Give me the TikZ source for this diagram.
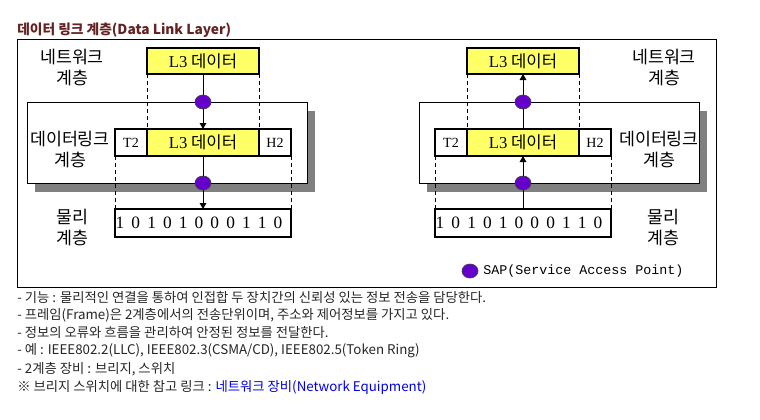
\documentclass[tikz,border=0pt]{standalone}
\usepackage{fontspec}
\setmainfont{Noto Sans CJK KR}
\setmonofont{Liberation Mono}
\newfontfamily\latserif{Liberation Serif}
\usetikzlibrary{arrows.meta, positioning, shapes.geometric, shadows}
\definecolor{titlered}{RGB}{102, 34, 34}
\definecolor{datayellow}{RGB}{255, 255, 102}
\definecolor{sappurple}{RGB}{102, 0, 204}
\definecolor{shadowgray}{RGB}{128, 128, 128}
\definecolor{linkblue}{RGB}{0, 0, 230}

\begin{document}
\begin{tikzpicture}[x=0.75pt, y=-0.75pt,
    databox/.style={draw, line width=1.5pt, fill=datayellow, minimum width=84pt, minimum height=19.5pt, inner sep=0pt, outer sep=0pt, font=\fontsize{12.5}{14}\selectfont},
    headcell/.style={draw, line width=1.5pt, fill=white, minimum width=24pt, minimum height=20.25pt, inner sep=0pt, outer sep=0pt, font=\latserif\fontsize{10.5}{12}\selectfont},
    bitbox/.style={draw, line width=1.5pt, fill=white, minimum width=132pt, minimum height=21pt, inner sep=0pt, outer sep=0pt},
    bit/.style={inner sep=0pt, font=\latserif\fontsize{13}{14}\selectfont},
    layerbox/.style={draw, line width=0.75pt, fill=white, minimum width=210pt, minimum height=60.75pt, inner sep=0pt, outer sep=0pt,
        drop shadow={shadow xshift=6pt, shadow yshift=-6.75pt, opacity=1, fill=shadowgray}},
    sap/.style={ellipse, draw=black!75, line width=0.5pt, fill=sappurple, minimum width=12pt, minimum height=10.5pt, inner sep=0pt},
    layername/.style={align=center, inner sep=0pt, font=\fontsize{13}{15.75}\selectfont},
    flow/.style={line width=0.75pt, -{Triangle[width=5pt, length=4.5pt]}},
    guide/.style={line width=0.75pt, dash pattern=on 3pt off 2.25pt},
    note/.style={anchor=west, inner sep=0pt, text=black!85, font=\fontsize{10}{12}\selectfont}]
  \useasboundingbox (0,0) rectangle (760,419);

  % title and frame
  \node[anchor=west, inner sep=0pt, text=titlered, font=\bfseries\fontsize{10.3}{12}\selectfont] (title) at (17,30) {데이터 링크 계층(Data Link Layer)};
  \draw[line width=0.75pt] (17,39) rectangle (716,287);

  % sender side
  \node[layerbox] (layerL) at (167,142.5) {};
  \node[databox] (l3L) at (203,61) {{\latserif L3} 데이터};
  \node[databox, minimum height=20.25pt] (dataL) at (203,142.5) {{\latserif L3} 데이터};
  \node[headcell, left=0pt of dataL] (t2L) {T2};
  \node[headcell, right=0pt of dataL] (h2L) {H2};
  \node[bitbox] (bitsL) at (203,223) {};
  \foreach \b [count=\i] in {1,0,1,0,1,0,0,0,1,1,0}
    \node[bit] (bL\i) at (104.2+15.8*\i,223) {\b};
  \draw[guide] (l3L.south west) -- (dataL.north west);
  \draw[guide] (l3L.south east) -- (dataL.north east);
  \draw[guide] (t2L.south west) -- (bitsL.north west);
  \draw[guide] (h2L.south east) -- (bitsL.north east);
  \draw[flow] (l3L.south) -- (dataL.north);
  \draw[flow] (dataL.south) -- (bitsL.north);
  \node[sap] (sapL1) at (l3L.south |- layerL.north) {};
  \node[sap] (sapL2) at (dataL.south |- layerL.south) {};
  \node[layername] (netL) at (72,67.5) {네트워크\\계층};
  \node[layername] (dllL) at (70,150) {데이터링크\\계층};
  \node[layername] (phyL) at (72,227.5) {물리\\계층};

  % receiver side
  \node[layerbox] (layerR) at (559,142.5) {};
  \node[databox] (l3R) at (523,61) {{\latserif L3} 데이터};
  \node[databox, minimum height=20.25pt] (dataR) at (523,142.5) {{\latserif L3} 데이터};
  \node[headcell, left=0pt of dataR] (t2R) {T2};
  \node[headcell, right=0pt of dataR] (h2R) {H2};
  \node[bitbox] (bitsR) at (523,223) {};
  \foreach \b [count=\i] in {1,0,1,0,1,0,0,0,1,1,0}
    \node[bit] (bR\i) at (424.2+15.8*\i,223) {\b};
  \draw[guide] (l3R.south west) -- (dataR.north west);
  \draw[guide] (l3R.south east) -- (dataR.north east);
  \draw[guide] (t2R.south west) -- (bitsR.north west);
  \draw[guide] (h2R.south east) -- (bitsR.north east);
  \draw[flow] (dataR.north) -- (l3R.south);
  \draw[flow] (bitsR.north) -- (dataR.south);
  \node[sap] (sapR1) at (l3R.south |- layerR.north) {};
  \node[sap] (sapR2) at (dataR.south |- layerR.south) {};
  \node[layername] (netR) at (664,67.5) {네트워크\\계층};
  \node[layername] (dllR) at (659,150) {데이터링크\\계층};
  \node[layername] (phyR) at (663,227.5) {물리\\계층};

  % legend
  \node[sap] (sapkey) at (470,271) {};
  \node[right=3.5pt of sapkey, inner sep=0pt, font=\ttfamily\fontsize{10}{12}\selectfont] (sapname) {SAP(Service Access Point)};

  % notes
  \node[note] (n1) at (17,297) {- 기능 : 물리적인 연결을 통하여 인접합 두 장치간의 신뢰성 있는 정보 전송을 담당한다.};
  \node[note] (n2) at (17,315) {- 프레임(Frame)은 2계층에서의 전송단위이며, 주소와 제어정보를 가지고 있다.};
  \node[note] (n3) at (17,333) {- 정보의 오류와 흐름을 관리하여 안정된 정보를 전달한다.};
  \node[note] (n4) at (17,351) {- 예 : IEEE802.2(LLC), IEEE802.3(CSMA/CD), IEEE802.5(Token Ring)};
  \node[note] (n5) at (17,369) {- 2계층 장비 : 브리지, 스위치};
  \node[note] (n6) at (17,387) {※ 브리지 스위치에 대한 참고 링크 : \textcolor{linkblue}{네트워크 장비(Network Equipment)}};
\end{tikzpicture}
\end{document}
